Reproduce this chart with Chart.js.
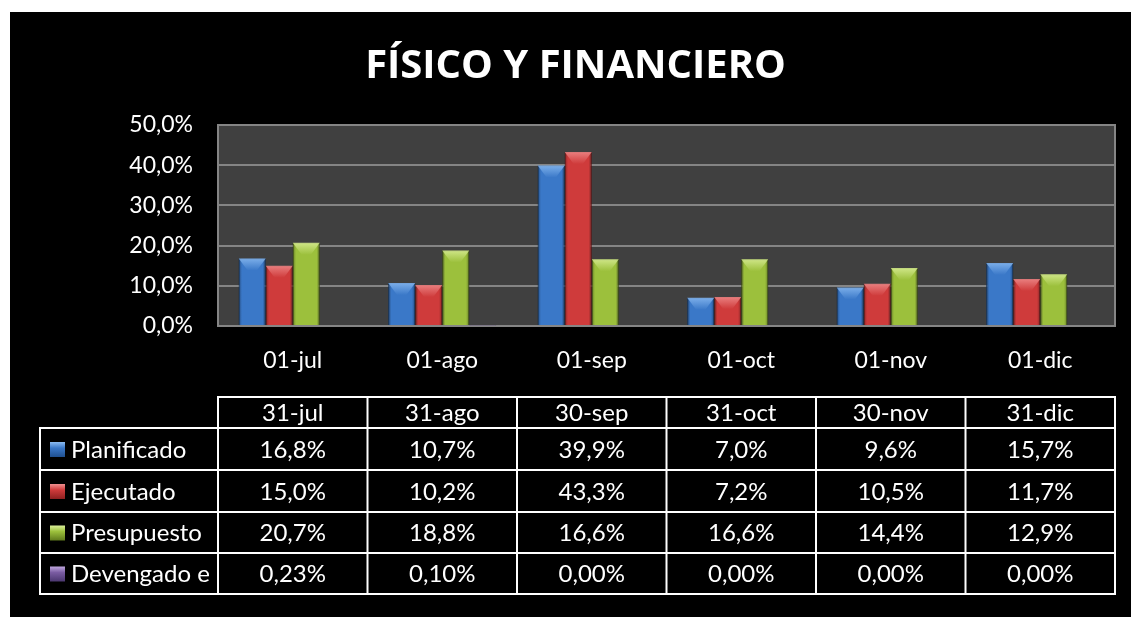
<!DOCTYPE html>
<html>
<head>
<meta charset="utf-8">
<script src="https://cdn.jsdelivr.net/npm/chart.js@4"></script>
<style>
  html, body { margin: 0; padding: 0; background: #fff; }
  #wrap { position: absolute; left: 10px; top: 12px; width: 1121px; height: 605px; background: #000; }
</style>
</head>
<body>
<div id="wrap"><canvas id="chart" width="1121" height="605"></canvas></div>
<script>
const startLabels = ['01-jul', '01-ago', '01-sep', '01-oct', '01-nov', '01-dic'];
const endLabels = ['31-jul', '31-ago', '30-sep', '31-oct', '30-nov', '31-dic'];
const planificado = [16.8, 10.7, 39.9, 7.0, 9.6, 15.7];
const ejecutado = [15.0, 10.2, 43.3, 7.2, 10.5, 11.7];
const presupuesto = [20.7, 18.8, 16.6, 16.6, 14.4, 12.9];
const devengado = [0.23, 0.10, 0.00, 0.00, 0.00, 0.00];
const yTicks = [0, 10, 20, 30, 40, 50];

const FONT = 'Lato, "Open Sans", sans-serif';

const series = [
    { label: 'Planificado', data: planificado, color: '#3a78c8', dark: '#1f4f8f', light: '#8cbcf2', dec: 1 },
    { label: 'Ejecutado', data: ejecutado, color: '#cf3b3b', dark: '#8e2020', light: '#f09090', dec: 1 },
    { label: 'Presupuesto', data: presupuesto, color: '#9cc03c', dark: '#5f7a1c', light: '#dcf09a', dec: 1 },
    { label: 'Devengado e', data: devengado, color: '#7a5ca2', dark: '#4b3770', light: '#c0a8e0', dec: 2 }
];

const fmt = (v, d) => v.toFixed(d).replace('.', ',') + '%';

// gray plot background
const plotBg = {
    id: 'plotBg',
    beforeDraw(chart) {
        const { ctx, chartArea: a } = chart;
        ctx.save();
        ctx.fillStyle = '#404040';
        ctx.fillRect(a.left, a.top, a.right - a.left, a.bottom - a.top);
        ctx.strokeStyle = '#858585';
        ctx.lineWidth = 2;
        ctx.strokeRect(a.left, a.top, a.right - a.left, a.bottom - a.top);
        ctx.restore();
    }
};

// bevel shading on the bars
const bevel = {
    id: 'bevel',
    afterDatasetsDraw(chart) {
        const ctx = chart.ctx;
        ctx.save();
        chart.data.datasets.forEach((ds, di) => {
            const s = series[di];
            chart.getDatasetMeta(di).data.forEach(bar => {
                const w = bar.width, left = bar.x - w / 2, right = bar.x + w / 2;
                const top = bar.y, bottom = bar.base;
                const h = bottom - top;
                if (h < 1) return;
                const g = ctx.createLinearGradient(left, 0, right, 0);
                g.addColorStop(0, 'rgba(0,0,0,0.35)');
                g.addColorStop(0.12, 'rgba(0,0,0,0)');
                g.addColorStop(0.88, 'rgba(0,0,0,0)');
                g.addColorStop(1, 'rgba(0,0,0,0.35)');
                ctx.fillStyle = g;
                ctx.fillRect(left, top, w, h);
                const th = Math.min(12, h);
                const tg = ctx.createLinearGradient(0, top, 0, top + th);
                tg.addColorStop(0, s.light);
                tg.addColorStop(1, s.color);
                ctx.beginPath();
                ctx.moveTo(left, top);
                ctx.lineTo(right, top);
                ctx.lineTo(right - w * 0.33, top + th);
                ctx.lineTo(left + w * 0.33, top + th);
                ctx.closePath();
                ctx.globalAlpha = 0.8;
                ctx.fillStyle = tg;
                ctx.fill();
                ctx.globalAlpha = 1;
            });
        });
        ctx.restore();
    }
};

// data table under the axis
const dataTable = {
    id: 'dataTable',
    afterDraw(chart) {
        const { ctx, chartArea: a, scales: { x } } = chart;
        const cw = (a.right - a.left) / startLabels.length;
        const tableLeft = 30;
        const headTop = 385, headBottom = 416;
        const rowH = [416, 458, 500, 541, 582];
        ctx.save();
        ctx.strokeStyle = '#ffffff';
        ctx.lineWidth = 2;
        ctx.fillStyle = '#ffffff';
        ctx.font = '24px ' + FONT;
        ctx.textBaseline = 'middle';

        // header row
        ctx.strokeRect(a.left, headTop, a.right - a.left, headBottom - headTop);
        ctx.textAlign = 'center';
        endLabels.forEach((lab, i) => {
            const cx = x.getPixelForValue(i);
            ctx.fillText(lab, cx, (headTop + headBottom) / 2 + 1);
            if (i > 0) {
                ctx.beginPath();
                ctx.moveTo(cx - cw / 2, headTop);
                ctx.lineTo(cx - cw / 2, rowH[rowH.length - 1]);
                ctx.stroke();
            }
        });

        // body rows
        ctx.strokeRect(tableLeft, headBottom, a.right - tableLeft, rowH[rowH.length - 1] - headBottom);
        ctx.beginPath();
        ctx.moveTo(a.left, headBottom);
        ctx.lineTo(a.left, rowH[rowH.length - 1]);
        ctx.stroke();
        series.forEach((s, r) => {
            const top = rowH[r], bottom = rowH[r + 1];
            const cy = (top + bottom) / 2 + 1;
            if (r > 0) {
                ctx.beginPath();
                ctx.moveTo(tableLeft, top);
                ctx.lineTo(a.right, top);
                ctx.stroke();
            }
            // legend key
            const kx = 40, ky = cy - 8, ks = 15;
            const g = ctx.createLinearGradient(kx, ky, kx, ky + ks);
            g.addColorStop(0, s.light);
            g.addColorStop(0.4, s.color);
            g.addColorStop(1, s.dark);
            ctx.fillStyle = g;
            ctx.fillRect(kx, ky, ks, ks);
            ctx.fillStyle = '#ffffff';
            ctx.textAlign = 'left';
            ctx.fillText(s.label, 61, cy);
            ctx.textAlign = 'center';
            s.data.forEach((v, i) => {
                ctx.fillText(fmt(v, s.dec), x.getPixelForValue(i), cy);
            });
        });
        ctx.restore();
    }
};

new Chart(document.getElementById('chart').getContext('2d'), {
    type: 'bar',
    data: {
        labels: startLabels,
        datasets: series.map(s => ({
            label: s.label,
            data: s.data,
            backgroundColor: s.color,
            borderColor: s.dark,
            borderWidth: 1,
            categoryPercentage: 0.723,
            barPercentage: 1
        }))
    },
    options: {
        responsive: false,
        animation: false,
        layout: { padding: { left: 26, right: 16, top: 0, bottom: 0 } },
        plugins: {
            legend: { display: false },
            tooltip: { enabled: false },
            title: {
                display: true,
                text: 'FÍSICO Y FINANCIERO',
                color: '#ffffff',
                font: { family: '"Open Sans", Lato, sans-serif', size: 40, weight: 'bold' },
                padding: { top: 31, bottom: 34 }
            }
        },
        scales: {
            x: {
                grid: { display: false, drawTicks: false },
                border: { display: false },
                ticks: { color: '#ffffff', font: { family: FONT, size: 23 }, padding: 21, maxRotation: 0 },
                afterFit: (scale) => { scale.height = 291; }
            },
            y: {
                min: 0,
                max: 50,
                afterBuildTicks: (scale) => { scale.ticks = yTicks.map(v => ({ value: v })); },
                grid: { color: '#858585', lineWidth: 2, drawTicks: false },
                border: { display: false },
                ticks: {
                    color: '#ffffff',
                    font: { family: FONT, size: 23 },
                    padding: 25,
                    callback: (v) => fmt(v, 1)
                },
                afterFit: (scale) => { scale.width = 182; }
            }
        }
    },
    plugins: [plotBg, bevel, dataTable]
});
</script>
</body>
</html>
